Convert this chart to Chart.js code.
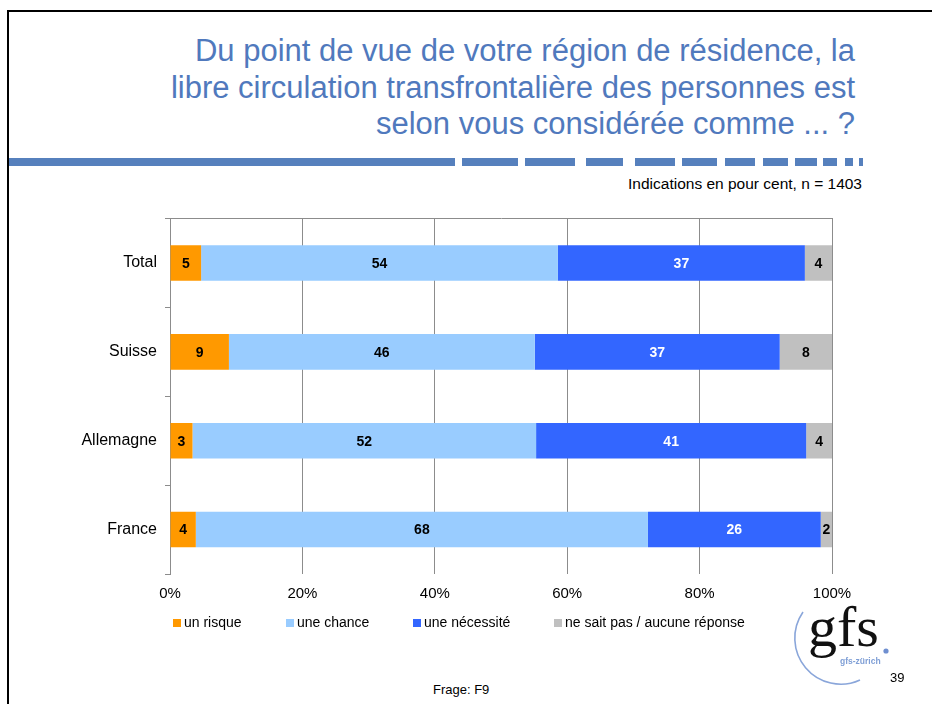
<!DOCTYPE html>
<html lang="fr">
<head>
<meta charset="utf-8">
<title>Libre circulation transfrontalière</title>
<script src="https://cdn.jsdelivr.net/npm/chart.js@4.4.1/dist/chart.umd.min.js"></script>
<style>
  html, body { margin: 0; padding: 0; background: #fff; }
  body { width: 932px; height: 704px; position: relative; overflow: hidden;
         font-family: "Liberation Sans", Arial, sans-serif; color: #000; }
  .frame { position: absolute; left: 7px; top: 10px; width: 940px; height: 720px;
           border-top: 2px solid #000; border-left: 2px solid #000; }
  .title { position: absolute; right: 77px; top: 33px; width: 820px; text-align: right;
           font-size: 31px; line-height: 36.5px; color: #5079bd; }
  .rule { position: absolute; top: 158px; height: 8px; background: #5680bd; }
  .note { position: absolute; right: 70px; top: 175px; font-size: 15.5px; line-height: 18px; }
  #wrap { position: absolute; left: 0; top: 201px; width: 880px; height: 422px; }
  .legend { position: absolute; top: 613px; left: 0; width: 932px; height: 18px; font-size: 14px; }
  .legend span.item { position: absolute; top: 0; line-height: 18px; white-space: nowrap; }
  .legend i { display: inline-block; width: 8px; height: 8px; margin-right: 3px; vertical-align: 0px; }
  .frage { position: absolute; left: 433px; top: 682px; font-size: 13px; }
  .page { position: absolute; left: 890px; top: 670px; font-size: 13px; }
  .logo { position: absolute; left: 790px; top: 600px; width: 110px; height: 90px; }
  .gfs { position: absolute; left: 808px; top: 593px; font-family: "Liberation Serif", "DejaVu Serif", serif;
         font-size: 58px; line-height: 68px; color: #111; }
  .gfsz { position: absolute; left: 840px; top: 656px; font-size: 8.5px; font-weight: bold; color: #7f9fd6; }
</style>
</head>
<body>
<div class="frame"></div>
<div class="title">Du point de vue de votre région de résidence, la<br>libre circulation transfrontalière des personnes est<br>selon vous considérée comme ... ?</div>
<div id="rules"></div>
<div class="note">Indications en pour cent, n = 1403</div>
<div id="wrap"><canvas id="chart"></canvas></div>
<div class="legend" id="legend"></div>
<div class="frage">Frage: F9</div>
<svg class="logo" width="110" height="90" viewBox="790 600 110 90">
  <path d="M 803 612 A 46 46 0 0 0 860 680" fill="none" stroke="#8aa6da" stroke-width="1.6"/>
  <circle cx="886" cy="651" r="2.6" fill="#6f8fd0"/>
</svg>
<div class="gfs">gfs</div>
<div class="gfsz">gfs-zürich</div>
<div class="page">39</div>

<script>
// Data (percentages)
const categories = ['Total', 'Suisse', 'Allemagne', 'France'];
const risque = [4.7, 8.9, 3.4, 3.9];
const chance = [53.9, 46.2, 51.9, 68.3];
const necessite = [37.3, 37.0, 40.8, 26.1];
const nsp = [4.1, 7.9, 3.9, 1.7];
const seriesNames = ['un risque', 'une chance', 'une nécessité', 'ne sait pas / aucune réponse'];
const seriesColors = ['#ff9900', '#99ccff', '#3366ff', '#c0c0c0'];
const labelColors = ['#000', '#000', '#fff', '#000'];
const xTicks = [0, 20, 40, 60, 80, 100];

// title rule: one solid part then shrinking dashes
const ruleParts = [[9, 455], [462, 518], [525, 575], [586, 623], [635, 675], [682, 717],
                   [725, 755], [763, 788], [795, 817], [823, 837], [845, 853], [859, 863]];
const rules = document.getElementById('rules');
ruleParts.forEach(p => {
    const d = document.createElement('div');
    d.className = 'rule';
    d.style.left = p[0] + 'px';
    d.style.width = (p[1] - p[0]) + 'px';
    rules.appendChild(d);
});

// value labels in the middle of each segment
const segmentLabels = {
    id: 'segmentLabels',
    afterDatasetsDraw(chart) {
        const ctx = chart.ctx;
        ctx.save();
        ctx.font = 'bold 14px "Liberation Sans", Arial, sans-serif';
        ctx.textAlign = 'center';
        ctx.textBaseline = 'middle';
        chart.data.datasets.forEach((ds, i) => {
            const meta = chart.getDatasetMeta(i);
            meta.data.forEach((bar, j) => {
                ctx.fillStyle = labelColors[i];
                ctx.fillText(Math.round(ds.data[j]), (bar.x + bar.base) / 2, bar.y + 1);
            });
        });
        ctx.restore();
    }
};

const allSeries = [risque, chance, necessite, nsp];
const datasets = allSeries.map((values, i) => ({
    label: seriesNames[i],
    data: values,
    backgroundColor: seriesColors[i],
    borderWidth: 0,
    categoryPercentage: 1,
    barPercentage: 0.4
}));

const ctx = document.getElementById('chart').getContext('2d');
new Chart(ctx, {
    type: 'bar',
    data: { labels: categories, datasets: datasets },
    options: {
        indexAxis: 'y',
        responsive: true,
        maintainAspectRatio: false,
        animation: false,
        layout: { padding: { left: 70, right: 48, top: 13, bottom: 9 } },
        plugins: {
            legend: { display: false },
            tooltip: { enabled: false }
        },
        scales: {
            x: {
                stacked: true,
                min: 0,
                max: 100,
                afterBuildTicks: s => { s.ticks = xTicks.map(v => ({ value: v })); },
                ticks: {
                    callback: v => v + '%',
                    color: '#000',
                    padding: 11,
                    font: { family: '"Liberation Sans", Arial, sans-serif', size: 15 }
                },
                grid: { color: '#8c8c8c', drawTicks: false },
                border: { display: false }
            },
            xTop: {
                type: 'linear',
                position: 'top',
                display: true,
                ticks: { display: false },
                grid: { display: false, drawTicks: false },
                border: { display: true, color: '#8c8c8c' }
            },
            y: {
                stacked: true,
                afterFit: s => { s.width = 100; },
                ticks: {
                    color: '#000',
                    padding: 8,
                    font: { family: '"Liberation Sans", Arial, sans-serif', size: 16 }
                },
                grid: { offset: true, drawOnChartArea: false, tickLength: 5, color: '#8c8c8c' },
                border: { display: true, color: '#8c8c8c' }
            }
        }
    },
    plugins: [segmentLabels]
});

// legend
const legendLeft = [173, 286, 413, 554];
const legend = document.getElementById('legend');
seriesNames.forEach((name, i) => {
    const s = document.createElement('span');
    s.className = 'item';
    s.style.left = legendLeft[i] + 'px';
    const box = document.createElement('i');
    box.style.background = seriesColors[i];
    s.appendChild(box);
    s.appendChild(document.createTextNode(name));
    legend.appendChild(s);
});
</script>
</body>
</html>
